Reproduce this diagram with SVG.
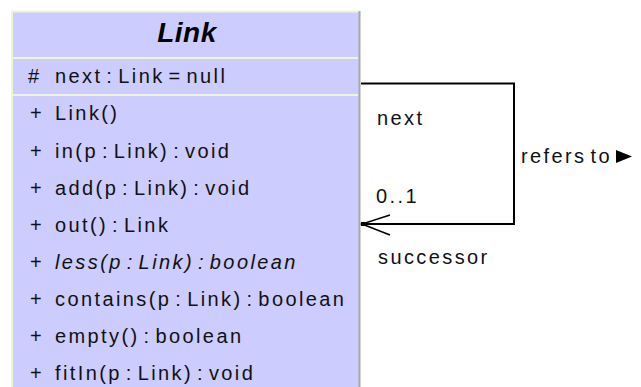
<svg xmlns="http://www.w3.org/2000/svg" width="641" height="387" viewBox="0 0 641 387">
<style>
.t{font-family:"Liberation Sans",Arial,sans-serif;font-size:20px;fill:#111;letter-spacing:2.4px;word-spacing:-4px}
.title{font-family:"Liberation Sans",Arial,sans-serif;font-size:28px;font-weight:bold;font-style:italic;fill:#000;letter-spacing:0.5px}
.sep{stroke:#eef6d8;stroke-width:2}
.c{fill:none;stroke:#000;stroke-width:2}
</style>
<rect width="641" height="387" fill="#fff"/>
<g id="Link">
<rect x="12" y="11" width="348" height="380" fill="#ccccff"/>
<path d="M12 390 V11.5 H359" fill="none" stroke="#eef6d8" stroke-width="2"/>
<line x1="359.5" y1="11" x2="359.5" y2="387" stroke="#a8a8a8" stroke-width="2"/>
<line class="sep" x1="13" y1="58" x2="358" y2="58"/>
<line class="sep" x1="13" y1="95" x2="358" y2="95"/>
<text class="title" x="187" y="42" text-anchor="middle">Link</text>
<text class="t" x="28" y="83">#</text><text class="t" x="55" y="83">next : Link = null</text>
<text class="t" x="30" y="120">+</text><text class="t" x="55" y="120">Link()</text>
<text class="t" x="30" y="158">+</text><text class="t" x="55" y="158">in(p : Link) : void</text>
<text class="t" x="30" y="195">+</text><text class="t" x="55" y="195">add(p : Link) : void</text>
<text class="t" x="30" y="232">+</text><text class="t" x="55" y="232">out() : Link</text>
<text class="t" x="30" y="269">+</text><text class="t" x="55" y="269" font-style="italic">less(p : Link) : boolean</text>
<text class="t" x="30" y="306">+</text><text class="t" x="55" y="306">contains(p : Link) : boolean</text>
<text class="t" x="30" y="343">+</text><text class="t" x="55" y="343">empty() : boolean</text>
<text class="t" x="30" y="380">+</text><text class="t" x="55" y="380">fitIn(p : Link) : void</text>
</g>
<g id="connectors">
<path class="c" d="M361 83.5 H514 V224 H362"/>
<path d="M390 215 L362 224 L390 235" fill="none" stroke="#000" stroke-width="1.5"/>
<rect x="361" y="222" width="4" height="4" fill="#000"/>
<text class="t" x="377" y="125">next</text>
<text class="t" x="376" y="203">0..1</text>
<text class="t" x="378" y="264">successor</text>
<text class="t" x="521" y="163">refers to</text>
<path d="M616 150 L632 156.5 L616 163 Z" fill="#000"/>
</g>
</svg>
